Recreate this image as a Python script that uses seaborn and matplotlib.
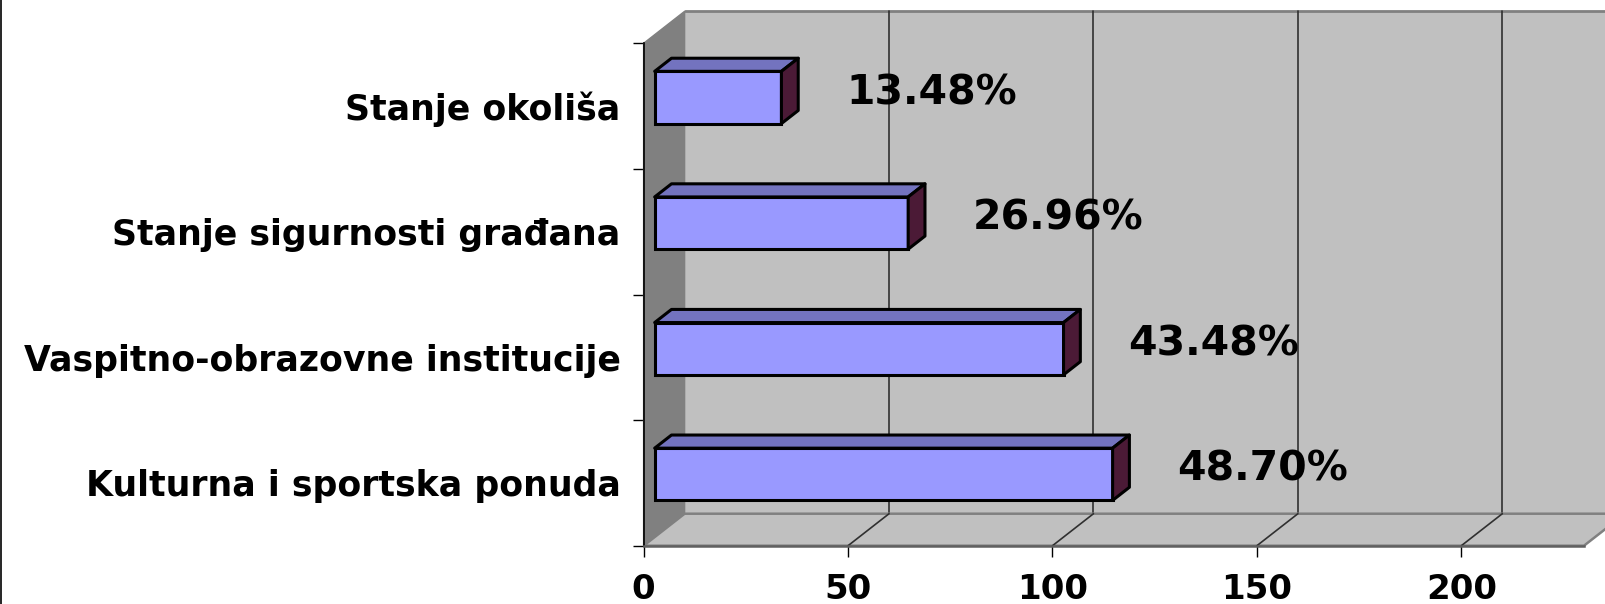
import matplotlib

matplotlib.use("Agg")
import matplotlib.pyplot as plt
import matplotlib.transforms as mtransforms
import pandas as pd
import seaborn as sns
from matplotlib.lines import Line2D
from matplotlib.patches import Polygon

categories = [
    "Stanje okoliša",
    "Stanje sigurnosti građana",
    "Vaspitno-obrazovne institucije",
    "Kulturna i sportska ponuda",
]
counts = [31, 62, 100, 112]
percent_labels = ["13.48%", "26.96%", "43.48%", "48.70%"]
x_ticks = [0, 50, 100, 150, 200]
x_max = 230

WALL = "#c0c0c0"
SIDE_WALL = "#808080"
EDGE = "#808080"
GRID = "#303030"
BAR_FRONT = "#9999ff"
BAR_TOP = "#7373bf"
BAR_SIDE = "#4b1a36"

DEPTH = (41, 32)          # px shift from front plane to back wall
BAR_NEAR, BAR_FAR = 0.27, 0.68

sns.set_theme(style="white")
plt.rcParams["font.family"] = ["DejaVu Sans"]
plt.rcParams["text.color"] = "black"
plt.rcParams["xtick.color"] = "black"
plt.rcParams["ytick.color"] = "black"
plt.rcParams["xtick.labelcolor"] = "black"
plt.rcParams["ytick.labelcolor"] = "black"

fig = plt.figure(figsize=(16.05, 6.04), dpi=100)
ax = fig.add_axes([0.401, 0.0965, 0.5859, 0.8318])

data = pd.DataFrame({"category": categories, "count": counts})
sns.barplot(data=data, x="count", y="category", orient="h", width=0.416,
            color=BAR_FRONT, saturation=1, edgecolor="black", linewidth=2.2,
            ax=ax, zorder=5)
ax.set_xlim(0, x_max)
ax.set_ylim(3.5, -0.5)
bars = list(ax.patches)


def to_px(x, y, frac=0.0):
    px, py = ax.transData.transform((x, y))
    return (px + frac * DEPTH[0], py + frac * DEPTH[1])


def add_poly(points, **kw):
    ax.add_patch(Polygon(points, closed=True, transform=mtransforms.IdentityTransform(),
                         clip_on=False, **kw))


def add_line(p0, p1, **kw):
    ax.add_line(Line2D([p0[0], p1[0]], [p0[1], p1[1]],
                       transform=mtransforms.IdentityTransform(), clip_on=False, **kw))


y_top, y_bot = -0.5, 3.5

# back wall, side wall and floor
add_poly([to_px(0, y_top, 1), to_px(x_max, y_top, 1), to_px(x_max, y_bot, 1), to_px(0, y_bot, 1)],
         facecolor=WALL, edgecolor="none", zorder=0.5)
add_line(to_px(0, y_top, 1), to_px(x_max, y_top, 1), color=EDGE, lw=2, zorder=0.55)
for v in x_ticks[1:]:
    add_line(to_px(v, y_bot, 1), to_px(v, y_top, 1), color=GRID, lw=1.2, zorder=0.6)
add_poly([to_px(0, y_top, 0), to_px(0, y_top, 1), to_px(0, y_bot, 1), to_px(0, y_bot, 0)],
         facecolor=SIDE_WALL, edgecolor=EDGE, lw=1, zorder=0.7)
add_poly([to_px(0, y_bot, 0), to_px(x_max, y_bot, 0), to_px(x_max, y_bot, 1), to_px(0, y_bot, 1)],
         facecolor=WALL, edgecolor=EDGE, lw=1.8, zorder=0.8)
for v in x_ticks[1:]:
    add_line(to_px(v, y_bot, 0), to_px(v, y_bot, 1), color=GRID, lw=1.2, zorder=0.9)


def at(p, frac):
    return (p[0] + frac * DEPTH[0], p[1] + frac * DEPTH[1])


# 3d faces of the bars
shift = mtransforms.ScaledTranslation(BAR_NEAR * DEPTH[0] / 100, BAR_NEAR * DEPTH[1] / 100,
                                      fig.dpi_scale_trans)
for patch in bars:
    x0, y0 = patch.get_x(), patch.get_y()
    w, h = patch.get_width(), patch.get_height()
    tl, tr, br = to_px(x0, y0), to_px(x0 + w, y0), to_px(x0 + w, y0 + h)
    add_poly([at(tl, BAR_NEAR), at(tr, BAR_NEAR), at(tr, BAR_FAR), at(tl, BAR_FAR)],
             facecolor=BAR_TOP, edgecolor="black", lw=2.2, joinstyle="round", zorder=5)
    add_poly([at(tr, BAR_NEAR), at(br, BAR_NEAR), at(br, BAR_FAR), at(tr, BAR_FAR)],
             facecolor=BAR_SIDE, edgecolor="black", lw=2.2, joinstyle="round", zorder=5)
    patch.set_transform(ax.transData + shift)
    patch.set_clip_on(False)

for i, (cnt, lbl) in enumerate(zip(counts, percent_labels)):
    ax.annotate(lbl, xy=(cnt, i), xytext=(76 * 0.72, 2 * 0.72), textcoords="offset points",
                ha="left", va="baseline", fontsize=29.5, fontweight="bold", color="black",
                zorder=6)

# axes styling
for side in ["top", "right"]:
    ax.spines[side].set_visible(False)
ax.spines["left"].set_color("black")
ax.spines["left"].set_linewidth(1.2)
ax.spines["left"].set_zorder(4)
ax.spines["bottom"].set_color("#606060")
ax.spines["bottom"].set_linewidth(1.8)
ax.spines["bottom"].set_zorder(4)
ax.set_facecolor("none")
ax.set_xlabel("")
ax.set_ylabel("")

ax.set_xticks(x_ticks, labels=[str(t) for t in x_ticks])
ax.tick_params(axis="x", bottom=True, direction="out", length=8, width=1, color="black",
               labelcolor="black", pad=12, labelsize=24.5)
for t in ax.get_xticklabels():
    t.set_fontweight("bold")

ax.set_yticks([-0.5, 0.5, 1.5, 2.5, 3.5], labels=[""] * 5)
ax.set_yticks(range(len(categories)), labels=categories, minor=True)
ax.tick_params(axis="y", which="major", left=True, direction="out", length=8, width=1,
               color="black")
ax.tick_params(axis="y", which="minor", left=True, length=0, pad=16.5, labelsize=25,
               labelcolor="black")
for t in ax.get_yticklabels(minor=True):
    t.set_fontweight("bold")

fig.add_artist(Line2D([0.0006, 0.0006], [0, 1], transform=fig.transFigure, color="black", lw=1.2))

fig.savefig("out.png", dpi=100)
